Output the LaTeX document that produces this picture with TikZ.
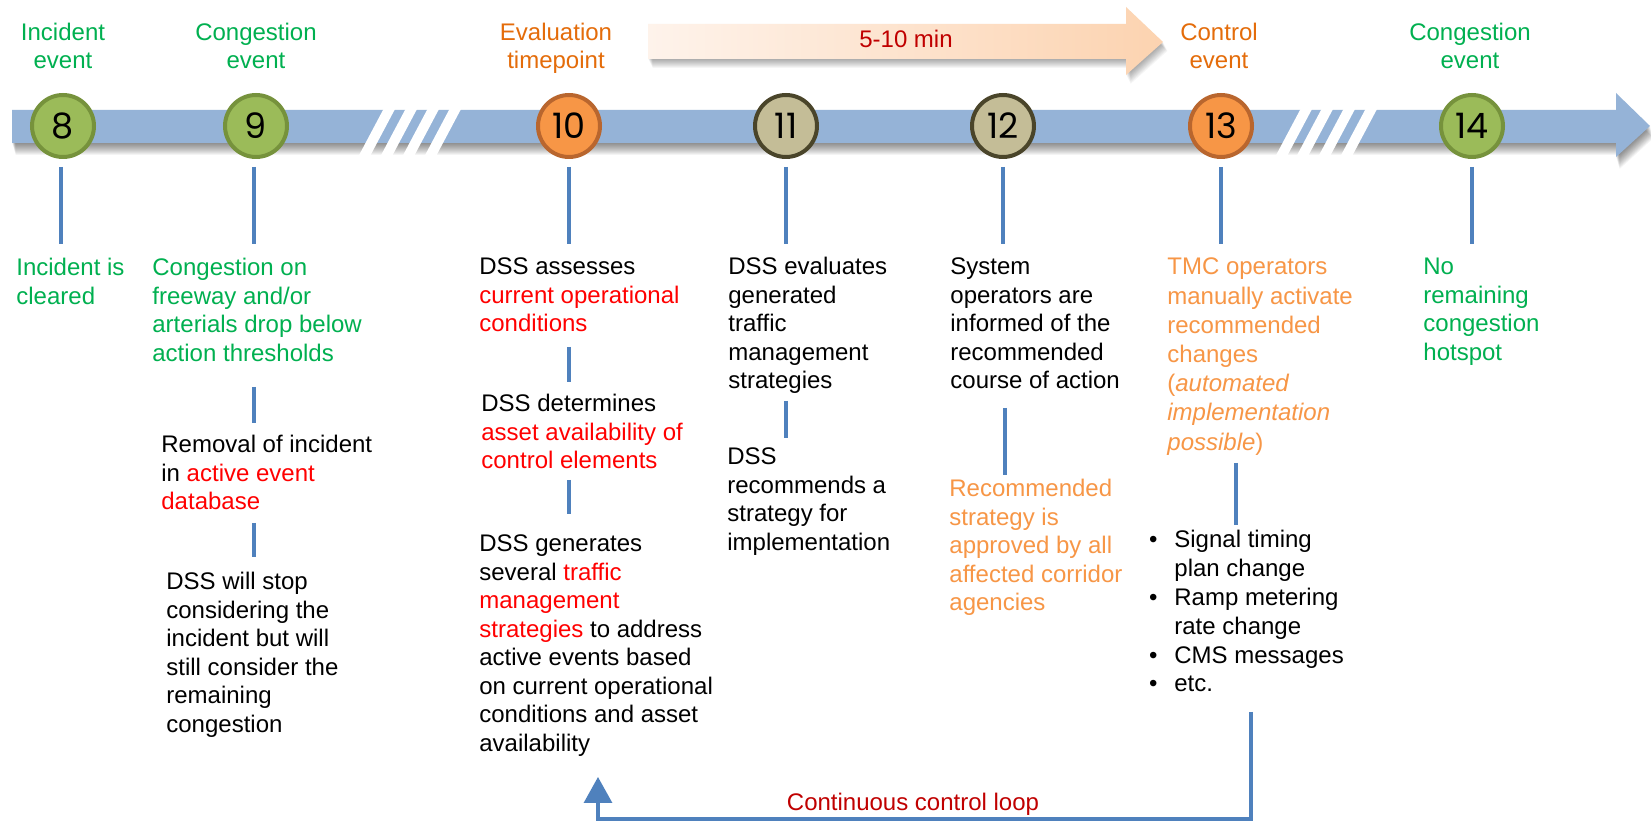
\documentclass[tikz,border=0pt]{standalone}
\usepackage{fontspec}
\setmainfont{Liberation Sans}
\newfontfamily\numfont{Poppins}
\usetikzlibrary{arrows.meta}
\definecolor{tgreen}{HTML}{00B050}
\definecolor{horange}{HTML}{E46C0A}
\definecolor{lorange}{HTML}{F79646}
\definecolor{tred}{HTML}{FF0000}
\definecolor{dred}{HTML}{C00000}
\definecolor{conblue}{HTML}{4F81BD}
\definecolor{barblue}{HTML}{95B3D7}
\definecolor{cgreenf}{HTML}{9BBB59}
\definecolor{cgreend}{HTML}{76923C}
\definecolor{corangef}{HTML}{F79646}
\definecolor{corange d}{HTML}{B9662E}
\definecolor{ctanf}{HTML}{C4BD97}
\definecolor{ctand}{HTML}{4A452A}
\definecolor{arrL}{HTML}{FEF3EB}
\definecolor{arrR}{HTML}{FCD3B0}
\newcommand{\rd}[1]{\textcolor{tred}{#1}}
\newcommand{\bul}{\llap{\textbullet\hspace{8.5pt}}}
\begin{document}
\begin{tikzpicture}[x=0.5pt,y=-0.5pt,
  circ/.style={circle, minimum size=31pt, line width=2pt, inner sep=0pt, font=\numfont\fontsize{17.5pt}{20pt}\selectfont},
  cg/.style={circ, fill=cgreenf, draw=cgreend},
  co/.style={circ, fill=corangef, draw=corange d},
  ct/.style={circ, fill=ctanf, draw=ctand},
  txt/.style={anchor=base west, inner sep=0pt, align=left, font=\fontsize{12pt}{14.25pt}\selectfont},
  hdr/.style={anchor=base, inner sep=0pt, align=center, font=\fontsize{12pt}{13.75pt}\selectfont},
  conn/.style={draw=conblue, line width=1.8pt},
  stripe/.style={fill=white}
]
\useasboundingbox (0,0) rectangle (1651,822);
\fill[white] (0,0) rectangle (1651,822);

% ---- timeline bar shadow ----
\foreach \d in {1,...,12}{
  \begin{scope}[shift={(0.3*\d,\d)}]
    \fill[black,opacity=0.045] (12,110) -- (1616,110) -- (1616,93) -- (1650,126) -- (1616,157) -- (1616,143) -- (12,143) -- cycle;
  \end{scope}
}
% ---- timeline bar ----
\fill[barblue] (12,110) -- (1616,110) -- (1616,93) -- (1650,126) -- (1616,157) -- (1616,143) -- (12,143) -- cycle;

% ---- break stripes ----
\foreach \xt in {383,405,427,449,1300,1321,1343,1365}{
  \fill[stripe] (\xt+3.2,104) -- (\xt+14.7,104) -- (\xt+11.5-26.5,160) -- (\xt-26.5,160) -- cycle;
}

% ---- 5-10 min arrow ----
\foreach \d in {1,...,9}{
  \begin{scope}[shift={(0.5*\d,\d)}]
    \fill[black,opacity=0.04] (648,24) -- (1126,24) -- (1126,7) -- (1163,42) -- (1126,75) -- (1126,59) -- (648,59) -- cycle;
  \end{scope}
}
\shade[left color=arrL, right color=arrR] (648,24) -- (1126,24) -- (1126,7) -- (1163,42) -- (1126,75) -- (1126,59) -- (648,59) -- cycle;
\node[anchor=base, inner sep=0pt, font=\fontsize{12pt}{14pt}\selectfont, text=dred] (dur) at (906,48) {5-10 min};

% ---- headers (anchor = baseline of last line) ----
\node[hdr, text=tgreen] (h8) at (63,68.5) {Incident\\event};
\node[hdr, text=tgreen] (h9) at (256,68.5) {Congestion\\event};
\node[hdr, text=horange] (h10) at (556,68.5) {Evaluation\\timepoint};
\node[hdr, text=horange] (h13) at (1219,68.5) {Control\\event};
\node[hdr, text=tgreen] (h14) at (1470,68.5) {Congestion\\event};

% ---- circles ----
\node[cg] (c8) at (63,126) {8};
\node[cg] (c9) at (256,126) {9};
\node[co] (c10) at (569,126) {10};
\node[ct] (c11) at (786,126) {11};
\node[ct] (c12) at (1003,126) {12};
\node[co] (c13) at (1221,126) {13};
\node[cg] (c14) at (1472,126) {14};

% ---- connector end coordinates ----
\coordinate (e8) at (61,244);
\coordinate (e9) at (254,244);
\coordinate (e10) at (569,244);
\coordinate (e11) at (786,244);
\coordinate (e12) at (1003,244);
\coordinate (e13) at (1221,244);
\coordinate (e14) at (1472,244);
\foreach \n/\x in {8/61,9/254,10/569,11/786,12/1003,13/1221,14/1472}{
  \coordinate (s\n) at (\x,167);
  \draw[conn] (s\n) -- (e\n);
}

% ---- text blocks (anchor = baseline of last line) ----
\node[txt, text=tgreen] (t8) at (16,304.5) {Incident is\\cleared};
\node[txt, text=tgreen] (t9) at (152,361.5) {Congestion on\\freeway and/or\\arterials drop below\\action thresholds};
\node[txt] (t9b) at (161,510) {Removal of incident\\in \rd{active event}\\\rd{database}};
\node[txt] (t9c) at (166,732.5) {DSS will stop\\considering the\\incident but will\\still consider the\\remaining\\congestion};
\node[txt] (t10) at (479,332) {DSS assesses\\\rd{current operational}\\\rd{conditions}};
\node[txt] (t10b) at (481,469) {DSS determines\\\rd{asset availability of}\\\rd{control elements}};
\node[txt] (t10c) at (479,751.5) {DSS generates\\several \rd{traffic}\\\rd{management}\\\rd{strategies} to address\\active events based\\on current operational\\conditions and asset\\availability};
\node[txt] (t11) at (728,389) {DSS evaluates\\generated\\traffic\\management\\strategies};
\node[txt] (t11b) at (727,550.5) {DSS\\recommends a\\strategy for\\implementation};
\node[txt] (t12) at (950,389) {System\\operators are\\informed of the\\recommended\\course of action};
\node[txt, text=lorange] (t12b) at (949,611) {Recommended\\strategy is\\approved by all\\affected corridor\\agencies};
\node[txt, text=lorange, font=\fontsize{12pt}{14.6pt}\selectfont] (t13) at (1167,450.2) {TMC operators\\manually activate\\recommended\\changes\\(\textit{automated}\\\textit{implementation}\\\textit{possible})};
\node[txt, font=\fontsize{12pt}{14.4pt}\selectfont] (t13b) at (1174,692) {\bul Signal timing\\plan change\\\bul Ramp metering\\rate change\\\bul CMS messages\\\bul etc.};
\node[txt, text=tgreen] (t14) at (1423,360.5) {No\\remaining\\congestion\\hotspot};

% ---- inner connectors ----
\coordinate (a9) at (254,387);   \coordinate (b9) at (254,423);
\coordinate (a9b) at (254,523);  \coordinate (b9b) at (254,557);
\coordinate (a10) at (569,347);  \coordinate (b10) at (569,382);
\coordinate (a10b) at (569,480); \coordinate (b10b) at (569,514);
\coordinate (a11) at (786,401);  \coordinate (b11) at (786,438);
\coordinate (a12) at (1005,408); \coordinate (b12) at (1005,475);
\coordinate (a13) at (1236,463); \coordinate (b13) at (1236,525);
\foreach \n in {9,9b,10,10b,11,12,13}{
  \draw[conn] (a\n) -- (b\n);
}

% ---- control loop ----
\coordinate (loopstart) at (1251,712);
\coordinate (loopend) at (598,777);
\draw[conn, line width=1.6pt, -{Triangle[width=14pt,length=13pt]}] (loopstart) |- (598,819) -- (loopend);
\node[anchor=base, inner sep=0pt, font=\fontsize{12pt}{14pt}\selectfont, text=dred] (loop) at (913,811) {Continuous control loop};
\end{tikzpicture}
\end{document}
